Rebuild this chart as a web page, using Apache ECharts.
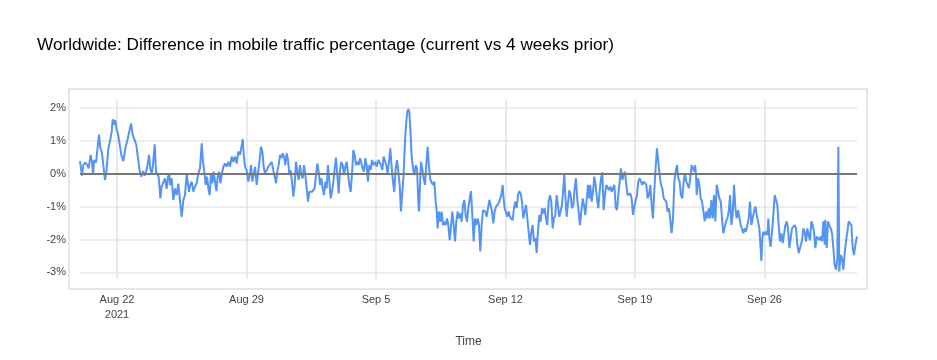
<!DOCTYPE html>
<html>
<head>
<meta charset="utf-8">
<script src="https://cdn.jsdelivr.net/npm/echarts@6/dist/echarts.min.js"></script>
<style>
html,body{margin:0;padding:0;background:#fff;}
#chart{width:937px;height:360px;}
</style>
</head>
<body>
<div id="chart"></div>
<script>
// Hours since 2021-08-20 00:00, and % difference (current vs 4 weeks prior)
var seriesStart = '2021-08-20 00:00';
var readingsAug20 = [[0,0.38],[2.6,-0.06],[4.3,0.26],[6.9,0.34],[9.5,0.26],[11.2,0.16],[13.8,0.57],[15.6,0.34],[16.9,-0.04],[18.2,0.41],[20.8,0.34],[22.5,0.36],[24.6,1.19],[26.4,0.77],[28.1,0.69],[30.3,0.26],[32.4,-0.19],[34.2,0.04],[36.8,0.77],[38.9,0.99],[41.1,1.27],[42.4,1.65],[44.5,1.49],[45.8,1.63],[47.6,1.32],[49.3,1.22],[51.0,1.17],[53.6,0.57],[56.2,0.38],[59.2,0.82],[61.8,1.05],[64.0,1.02],[66.2,1.53],[68.3,1.19],[70.9,1.02],[73.1,0.87],[75.2,0.82],[77.4,0.08],[79.6,-0.09],[81.7,0.08],[83.9,-0.06],[85.6,0.06],[87.3,0.21],[89.5,0.57],[91.2,0.16],[93.0,0.01],[94.7,0.26],[96.9,0.89],[98.6,0.06],[100.3,-0.02],[102.0,-0.09],[103.3,-0.44],[104.2,-0.75],[105.9,-0.39],[108.1,-0.44],[110.3,-0.14],[112.4,-0.46],[114.2,-0.09],[115.9,-0.02]];
var readingsAug24 = [[116.8,-0.34],[118.9,-0.14],[121.1,-0.80],[123.3,-0.45],[125.4,-0.65],[127.6,-0.30],[129.8,-0.85],[131.9,-1.31],[134.1,-0.80],[136.2,-0.65],[138.4,0.01],[139.7,-0.24],[141.4,-0.55],[143.2,-0.34],[144.9,-0.24],[147.1,-0.55],[149.2,-0.39],[151.4,-0.29],[153.5,0.01],[155.7,0.16],[157.9,0.92],[159.6,0.36],[161.3,0.06],[163.1,-0.34],[164.8,-0.09],[166.5,-0.44],[168.2,-0.65],[170.0,0.01],[171.7,-0.29],[173.4,0.06],[175.2,-0.24],[176.9,-0.53],[178.6,-0.09],[180.3,0.06],[182.1,-0.29],[183.8,-0.04],[186.0,0.21],[188.1,0.31],[190.3,0.21],[192.5,0.36],[194.6,0.21],[196.8,0.52],[198.9,0.36],[201.1,0.52],[203.3,0.31],[205.4,0.67],[207.6,0.57],[209.8,0.87],[211.1,1.05],[212.3,0.62],[214.1,0.21],[216.2,0.11],[218.4,-0.24],[220.6,0.01],[221.9,0.26],[223.6,-0.24],[225.3,-0.04],[227.1,0.21],[229.2,-0.34],[231.4,0.11],[233.5,0.52],[234.8,0.82],[236.6,0.67],[238.3,0.21],[240.0,0.01],[242.2,0.11],[244.3,0.21],[246.5,0.26],[248.7,0.36],[250.8,0.11]];
var readingsAug30 = [[253.0,0.06],[254.3,-0.29],[256.0,0.06],[257.7,0.26],[259.5,0.57],[261.2,0.47],[262.9,0.62],[264.7,0.52],[266.4,0.26],[268.1,0.62],[269.9,0.42],[271.6,-0.04],[273.3,0.11],[275.0,-0.24],[276.8,-0.70],[278.5,-0.34],[280.2,0.36],[282.0,0.06],[283.7,-0.19],[285.4,0.26],[287.1,-0.04],[288.9,-0.14],[290.6,0.26],[292.3,-0.04],[294.1,-0.44],[295.8,-0.85],[297.5,-0.55],[299.3,-0.50],[301.0,-0.55],[302.7,-0.60],[304.4,-0.44],[306.2,-0.04],[307.9,0.31],[309.6,0.06],[311.4,-0.34],[313.1,-0.14],[314.8,-0.44],[316.5,-0.65],[318.3,-0.24],[320.0,-0.44],[321.7,0.26],[323.5,-0.24],[325.2,-0.75],[326.9,-0.55],[328.7,-0.24],[330.4,0.16],[332.1,0.49],[333.8,-0.04],[335.6,-0.60],[337.3,0.11],[339.0,0.36],[340.8,0.26],[342.5,-0.04],[344.2,0.21],[346.0,0.36],[347.7,0.01],[349.4,-0.34],[351.1,-0.55],[352.9,0.01],[354.6,0.72],[356.3,0.57],[358.1,0.26],[359.8,0.36],[361.5,0.26],[363.3,0.47],[365.0,0.31],[366.7,0.16],[368.4,0.06],[370.2,0.47],[371.9,0.26],[373.6,-0.24],[375.4,0.26],[377.1,0.11],[378.8,0.42],[380.6,0.26],[382.7,0.36],[384.9,0.21],[387.0,0.42],[389.2,0.36]];
var readingsSep05 = [[390.5,0.26],[392.2,0.11],[393.9,0.52],[395.7,0.57],[397.4,0.26],[399.1,0.01],[400.9,0.36],[402.6,0.77],[404.3,0.21],[406.0,-0.24],[407.8,-0.55],[409.5,0.16],[411.2,0.41],[413.0,0.06],[414.7,-0.34],[416.4,-1.15],[418.2,-0.55],[419.9,0.01],[421.6,0.97],[423.3,1.58],[424.6,1.88],[425.9,1.96],[427.2,1.88],[428.5,1.38],[430.3,0.52],[432.0,0.16],[433.7,-0.04],[435.5,0.26],[437.2,0.16],[438.9,-0.85],[439.8,-1.15],[441.1,-0.34],[442.4,0.36],[444.1,0.16],[445.8,-0.14],[447.6,-0.34],[449.3,0.31],[451.0,0.82],[452.7,0.21],[454.5,-0.19],[456.2,-0.14],[457.9,-0.34],[459.7,-0.24],[461.4,-0.85],[462.7,-1.11],[464.0,-1.66],[465.7,-1.15],[467.5,-1.46],[469.2,-1.15],[470.9,-1.56],[472.6,-1.46],[474.4,-1.56],[476.1,-1.36],[477.8,-1.56],[479.6,-2.02],[481.3,-1.61],[483.0,-1.15],[484.8,-1.56],[486.5,-2.06],[488.2,-1.46],[489.9,-1.15],[491.7,-1.36],[493.4,-1.21],[495.1,-1.46],[496.9,-0.95],[498.6,-0.80],[500.3,-1.26],[502.0,-1.46],[503.8,-1.05],[505.5,-0.75],[507.2,-0.53],[509.0,-1.26],[510.7,-2.06],[512.4,-1.36],[514.2,-1.56],[515.9,-1.36],[517.6,-1.56],[519.3,-2.36],[521.1,-1.56],[522.8,-1.11],[524.5,-1.05]];
var readingsSep11 = [[525.8,-1.15],[527.5,-1.31],[529.3,-1.05],[531.0,-0.80],[532.7,-0.85],[534.5,-1.15],[536.2,-1.51],[537.9,-1.15],[539.7,-1.00],[541.4,-1.05],[543.1,-0.90],[544.8,-0.85],[546.6,-0.65],[548.3,-0.34],[549.2,-0.65],[550.9,-1.05],[552.6,-1.00],[554.4,-1.31],[556.1,-1.15],[557.8,-1.31],[559.5,-1.26],[561.3,-1.41],[563.0,-1.05],[564.7,-0.85],[566.5,-1.05],[568.2,-0.65],[569.9,-0.53],[571.7,-0.60],[573.4,-0.85],[575.1,-1.36],[576.8,-1.15],[578.6,-0.95],[580.3,-1.36],[582.0,-1.76],[583.8,-2.16],[585.5,-1.76],[587.2,-1.56],[588.9,-2.06],[590.7,-1.96],[592.4,-2.41],[594.1,-1.76],[595.9,-1.26],[597.6,-1.46],[599.3,-1.05],[601.1,-1.21],[602.8,-1.05],[604.5,-1.36],[606.2,-1.56],[608.0,-0.85],[609.7,-0.65],[611.4,-0.85],[613.2,-1.66],[614.9,-1.36],[616.6,-1.26],[618.4,-0.65],[620.1,-0.60],[621.8,-1.31],[623.5,-1.36],[625.3,-0.95],[627.0,-0.44],[628.3,-0.02],[629.6,-0.65],[631.3,-1.31],[633.1,-1.36],[634.8,-0.50],[636.5,-0.65],[638.2,-1.05],[640.0,-0.95],[641.7,-0.44],[643.4,-0.14],[645.2,-0.80],[646.9,-1.15],[648.6,-1.56],[650.4,-1.15],[652.1,-0.75],[653.8,-0.95],[655.5,-1.26],[657.3,-0.80],[659.0,-0.34],[660.7,-0.75]];
var readingsSep17 = [[662.0,-0.34],[663.7,-0.85],[665.5,-0.55],[667.2,-0.09],[668.9,-0.34],[670.7,-0.75],[672.4,-1.05],[674.1,-0.55],[675.9,-0.14],[677.6,0.04],[679.3,-1.11],[681.0,-0.65],[682.8,-0.34],[684.5,-0.39],[686.2,-0.50],[688.0,-0.39],[689.7,-0.55],[691.4,-0.44],[693.2,-0.34],[694.9,-1.00],[696.6,-1.11],[698.3,-0.65],[700.1,-0.24],[701.8,0.16],[703.5,-0.19],[705.3,-0.04],[707.0,0.06],[708.7,-0.34],[710.4,-0.65],[712.2,-0.60],[713.9,-0.60],[715.6,-0.75],[717.4,-1.25],[719.1,-1.00],[720.8,-1.00],[722.6,-0.65],[724.3,-0.24],[726.0,-0.14],[727.7,-0.19],[729.5,-0.34],[731.2,-0.24],[732.9,-0.24],[734.7,-0.34],[736.4,-0.75],[738.1,-0.65],[739.9,-0.34],[741.6,-0.95],[743.3,-1.36],[745.0,-0.55],[746.8,0.21],[748.5,0.77],[750.2,0.36],[752.0,-0.04],[753.7,-0.34],[755.4,-0.44],[757.2,-0.75],[758.9,-0.80],[760.6,-0.85],[762.3,-1.15],[764.1,-1.05],[765.8,-1.41],[767.5,-1.81],[769.3,-1.36],[771.0,-0.24],[772.7,0.06],[774.5,0.26],[776.2,-0.14],[777.9,-0.24],[779.6,-0.65],[781.4,-0.75],[783.1,-0.24],[784.8,0.01],[786.6,-0.24],[788.3,-0.34],[790.0,-0.44],[791.7,-0.14],[793.5,0.26],[795.2,0.28],[796.9,0.06]];
var readingsSep23 = [[797.9,0.26],[799.2,-0.04],[800.0,-0.65],[801.8,-0.14],[803.5,-0.34],[805.2,-0.75],[807.0,-0.85],[808.7,-1.15],[810.4,-1.45],[812.2,-1.15],[813.9,-1.36],[815.6,-1.05],[817.3,-1.36],[819.1,-0.80],[820.8,-1.36],[822.5,-0.65],[824.3,-1.45],[826.0,-0.34],[827.7,-0.29],[829.5,-0.75],[831.2,-0.85],[832.9,-1.36],[834.6,-1.81],[836.4,-1.76],[838.1,-1.45],[839.8,-1.36],[841.6,-1.15],[843.3,-0.65],[845.0,-1.56],[846.7,-1.25],[848.5,-0.34],[850.2,-1.05],[851.9,-1.36],[853.7,-1.11],[855.4,-1.15],[857.1,-1.56],[858.9,-1.61],[860.6,-1.81],[862.3,-1.66],[864.0,-1.76],[865.8,-1.56],[867.5,-1.36],[869.2,-0.85],[871.0,-1.56],[872.7,-1.56],[874.4,-1.15],[876.2,-1.00],[877.9,-1.25],[879.6,-1.31],[881.3,-1.66],[883.1,-2.30],[883.9,-2.65],[885.2,-1.96],[886.5,-1.76],[888.3,-1.86],[890.0,-1.76],[891.7,-1.86],[893.0,-1.36],[894.3,-1.96],[896.0,-2.22],[897.8,-1.76],[899.5,-1.25],[901.2,-0.65],[903.0,-0.60],[904.7,-0.95],[906.4,-1.56],[908.1,-2.06],[909.9,-1.81],[911.6,-2.11],[913.3,-2.06],[915.1,-1.56],[916.8,-1.45],[918.5,-1.66],[920.3,-2.26],[922.0,-1.96],[923.7,-1.66],[925.4,-1.66],[927.2,-1.56],[928.9,-1.66],[930.6,-2.16],[932.4,-2.41],[934.1,-2.26]];
var readingsSep29 = [[936.7,-2.02],[938.4,-1.66],[940.1,-1.76],[941.9,-2.06],[943.6,-1.66],[945.3,-1.86],[947.0,-2.02],[948.8,-1.45],[950.5,-1.56],[952.2,-1.76],[954.0,-2.26],[955.7,-1.91],[957.4,-1.86],[959.2,-2.02],[960.9,-1.91],[962.6,-2.06],[964.3,-1.45],[966.1,-2.16],[966.9,-1.40],[968.7,-2.26],[970.4,-1.45],[972.1,-1.56],[973.9,-1.66],[975.6,-1.81],[977.3,-2.26],[979.0,-2.77],[980.8,-2.92],[982.5,-2.57],[983.8,0.82],[985.0,-2.97],[986.8,-2.47],[988.6,-2.57],[990.3,-2.92],[992.0,-2.42],[993.7,-2.06],[995.5,-1.76],[997.2,-1.45],[998.9,-1.40],[1000.7,-1.56],[1002.4,-2.26],[1004.1,-2.47],[1005.9,-2.16],[1008,-1.91]];

var xTickHours = [48, 216, 384, 552, 720, 888];
var xTickLabels = ['Aug 22\n2021', 'Aug 29', 'Sep 5', 'Sep 12', 'Sep 19', 'Sep 26'];
var yTickValues = [-3, -2, -1, 0, 1, 2];
var titleText = 'Worldwide: Difference in mobile traffic percentage (current vs 4 weeks prior)';
var xAxisName = 'Time';

var allReadings = [].concat(readingsAug20, readingsAug24, readingsAug30, readingsSep05,
  readingsSep11, readingsSep17, readingsSep23, readingsSep29);

var FONT = '"Liberation Sans", Arial, Helvetica, sans-serif';
var chart = echarts.init(document.getElementById('chart'), null, {renderer: 'canvas'});
chart.setOption({
  animation: false,
  backgroundColor: '#fff',
  textStyle: {fontFamily: FONT},
  title: {
    text: titleText,
    left: 37, top: 37, padding: 0,
    textStyle: {fontSize: 17.2, fontWeight: 'normal', color: '#000', fontFamily: FONT}
  },
  grid: [
    {left: 80, right: 80, top: 100, bottom: 81, containLabel: false},
    {left: 69, right: 70, top: 89, bottom: 71, show: true, borderColor: '#cccccc', borderWidth: 1, backgroundColor: 'transparent', z: 0}
  ],
  xAxis: [
    {
      type: 'value', gridIndex: 0, min: 0, max: 1008,
      axisLine: {show: false},
      axisTick: {show: false, customValues: xTickHours},
      axisLabel: {
        customValues: xTickHours,
        formatter: function (v) { var i = xTickHours.indexOf(v); return i >= 0 ? xTickLabels[i] : ''; },
        color: '#444', fontSize: 11, margin: 13, lineHeight: 15.5, fontFamily: FONT
      },
      splitLine: {show: true, lineStyle: {color: '#e2e2e2', width: 1.5}},
      name: xAxisName, nameLocation: 'middle', nameGap: 57,
      nameTextStyle: {color: '#444', fontSize: 12, fontFamily: FONT}
    },
    {type: 'value', gridIndex: 1, show: false, min: 0, max: 1, splitLine: {show: false}}
  ],
  yAxis: [
    {
      type: 'value', gridIndex: 0, min: -3.2, max: 2.24,
      axisLine: {show: false},
      axisTick: {show: false, customValues: yTickValues},
      axisLabel: {
        customValues: yTickValues,
        formatter: function (v) { return Math.round(v) + '%'; },
        color: '#444', fontSize: 11, margin: 14, fontFamily: FONT
      },
      splitLine: {show: true, lineStyle: {color: '#e6e6e6', width: 1.5}}
    },
    {type: 'value', gridIndex: 1, show: false, min: 0, max: 1, splitLine: {show: false}}
  ],
  series: [{
    type: 'line',
    xAxisIndex: 0, yAxisIndex: 0,
    data: allReadings,
    showSymbol: false,
    symbol: 'none',
    lineStyle: {color: '#5594f0', width: 2},
    itemStyle: {color: '#5594f0'},
    z: 2,
    markLine: {
      silent: true,
      symbol: ['none', 'none'],
      label: {show: false},
      lineStyle: {color: '#777777', width: 2, type: 'solid'},
      data: [{yAxis: 0}],
      z: 5
    }
  }]
});
</script>
</body>
</html>
